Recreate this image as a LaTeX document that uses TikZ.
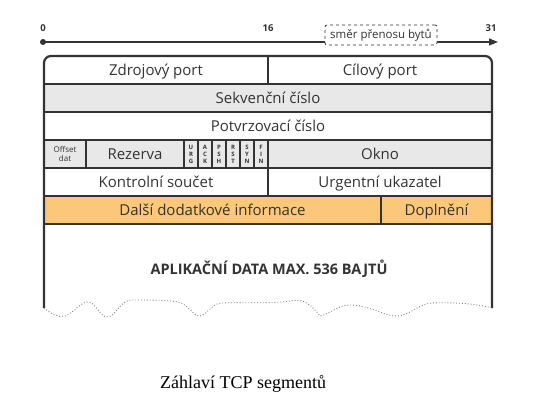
\documentclass[tikz,border=0pt]{standalone}
\usepackage{fontspec}
\setmainfont{Liberation Serif}
\newfontfamily\osans{Open Sans}
\usetikzlibrary{arrows.meta}
\definecolor{ink}{HTML}{333333}
\definecolor{rowgray}{HTML}{E8E8E8}
\definecolor{roworange}{HTML}{FAC878}
\begin{document}
\begin{tikzpicture}[x=1pt,y=-1pt,
  cell/.style={font=\osans\fontsize{15}{16}\selectfont, text=ink, inner sep=0pt, anchor=base},
  small/.style={font=\osans\fontsize{8}{8.5}\selectfont, text=ink, inner sep=0pt, align=center},
  flag/.style={font=\osans\bfseries\fontsize{6}{7}\selectfont, text=ink, inner sep=0pt, align=center},
  grid/.style={draw=ink, line width=1.3pt},
  border/.style={draw=ink, line width=2.2pt},
  bit/.style={font=\osans\bfseries\fontsize{9.5}{9.5}\selectfont, text=ink, inner sep=0pt}]
\useasboundingbox (0,0) rectangle (557,414);
% fills
\fill[rowgray] (44,84) rectangle (492,112);
\fill[rowgray] (44,140) rectangle (492,168);
\fill[roworange] (44,196) rectangle (492,224);
% horizontal rules
\foreach \y in {84,112,140,168,196,224} \draw[grid] (44,\y) -- (492,\y);
% vertical dividers
\draw[grid] (268,56) -- (268,84);
\foreach \x in {86,184,198,212,226,240,254,268} \draw[grid] (\x,140) -- (\x,168);
\draw[grid] (268,168) -- (268,196);
\draw[grid] (381,196) -- (381,224);
% outer border
\draw[border, rounded corners=7pt] (44,308) -- (44,56) -- (492,56) -- (492,308);
% wavy bottom
\draw[gray, line width=0.9pt, dotted] (44,308) .. controls (52,314) and (58,318) .. (65,316)
  .. controls (74,313) and (80,302) .. (88,302)
  .. controls (96,302) and (100,318) .. (108,317)
  .. controls (116,316) and (120,300) .. (132,300)
  .. controls (150,300) and (168,300) .. (178,302)
  .. controls (188,304) and (194,317) .. (200,316)
  .. controls (208,314) and (212,303) .. (222,303)
  .. controls (240,302) and (270,304) .. (290,301)
  .. controls (300,299) and (308,300) .. (320,316)
  .. controls (330,314) and (338,305) .. (350,305)
  .. controls (370,305) and (385,317) .. (398,316)
  .. controls (410,315) and (418,304) .. (432,303)
  .. controls (455,302) and (478,304) .. (492,308);
% axis
\coordinate (a0) at (43,42);
\coordinate (a1) at (498,42);
\draw[ink, line width=1.1pt, -{Triangle[length=9pt,width=7pt]}] (a0) -- (a1);
\fill[ink] (a0) circle (3pt);
\node[bit] (b0) at (43,28) {0};
\node[bit] (b16) at (268,28) {16};
\node[bit] (b31) at (491,28) {31};
\node[draw=ink, dashed, line width=0.8pt, fill=white, rounded corners=2pt, minimum width=112pt, minimum height=20pt, inner sep=0pt,
  font=\osans\fontsize{11.5}{12}\selectfont, text=ink] (dir) at (381,35) {směr přenosu bytů};
% texts
\node[cell] (src) at (156,75.5) {Zdrojový port};
\node[cell] (dst) at (380,75.5) {Cílový port};
\node[cell] (seq) at (268,103.5) {Sekvenční číslo};
\node[cell] (ack) at (268,131.5) {Potvrzovací číslo};
\node[small] (off) at (65,154) {Offset\\dat};
\node[cell] (rez) at (135,159.5) {Rezerva};
\node[flag] (fu) at (191,154) {U\\R\\G};
\node[flag] (fa) at (205,154) {A\\C\\K};
\node[flag] (fp) at (219,154) {P\\S\\H};
\node[flag] (fr) at (233,154) {R\\S\\T};
\node[flag] (fs) at (247,154) {S\\Y\\N};
\node[flag] (ff) at (261,154) {F\\I\\N};
\node[cell] (win) at (380,159.5) {Okno};
\node[cell] (chk) at (156,187.5) {Kontrolní součet};
\node[cell] (urg) at (380,187.5) {Urgentní ukazatel};
\node[cell] (opt) at (212.5,215.5) {Další dodatkové informace};
\node[cell] (pad) at (436.5,215.5) {Doplnění};
\node[font=\osans\bfseries\fontsize{14.5}{16}\selectfont, text=ink, inner sep=0pt, anchor=base] (data) at (269,275) {APLIKAČNÍ DATA MAX. 536 BAJTŮ};
\node[font=\fontsize{18}{20}\selectfont, inner sep=0pt] (cap) at (243,384) {Záhlaví TCP segmentů};
\end{tikzpicture}
\end{document}
